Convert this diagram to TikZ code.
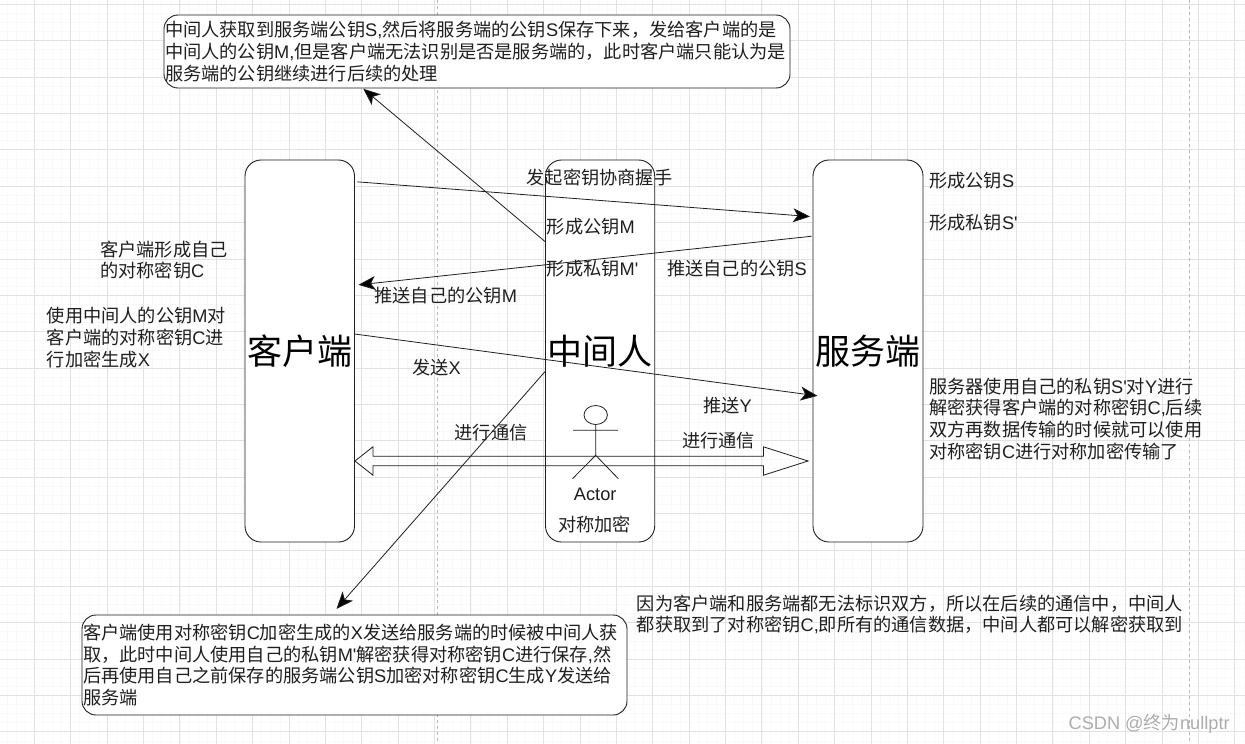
\documentclass[tikz,border=0pt]{standalone}
\usepackage{fontspec}
\usetikzlibrary{arrows.meta,shapes.geometric,calc}
\setmainfont{Noto Sans CJK SC}
\newfontfamily\latfont{Liberation Sans}
\newcommand{\la}[1]{{\latfont #1}}
\definecolor{gridmajor}{gray}{0.885}
\definecolor{gridminor}{gray}{0.975}
\definecolor{guide}{gray}{0.72}
\definecolor{markgray}{gray}{0.68}
\tikzset{
  txt/.style={inner sep=0pt,align=left,anchor=west,text=black!88,font=\fontsize{18.2}{21.6}\selectfont},
  ctxt/.style={txt,anchor=center,align=center},
  box/.style={draw=black!88,fill=white,line width=0.9pt,rounded corners=16pt,inner sep=0pt,minimum height=382pt,font=\fontsize{35}{40}\selectfont},
  note/.style={draw=black!88,fill=white,line width=0.9pt,rounded corners=14pt,inner sep=1pt,align=left,font=\fontsize{18.2}{21.6}\selectfont,text=black!88},
  conn/.style={draw=black!88,line width=0.8pt,-{Stealth[length=17pt,width=14pt,inset=4.5pt,fill=black]}},
  stick/.style={draw=black!88,line width=0.8pt},
}
\begin{document}
\begin{tikzpicture}[x=1pt,y=-1pt]
\useasboundingbox (0,0) rectangle (1245,744);
\fill[white] (0,0) rectangle (1245,744);
% grid
\foreach \k in {0,...,138}{
  \pgfmathsetmacro{\gx}{-2+9.094*\k}
  \draw[gridminor,line width=0.7pt] (\gx,0) -- (\gx,744);
}
\foreach \k in {0,...,82}{
  \pgfmathsetmacro{\gy}{4.3+9.094*\k}
  \draw[gridminor,line width=0.7pt] (0,\gy) -- (1245,\gy);
}
\foreach \k in {0,...,34}{
  \pgfmathsetmacro{\gx}{-2+36.375*\k}
  \draw[gridmajor,line width=0.9pt] (\gx,0) -- (\gx,744);
}
\foreach \k in {0,...,20}{
  \pgfmathsetmacro{\gy}{4.3+36.38*\k}
  \draw[gridmajor,line width=0.9pt] (0,\gy) -- (1245,\gy);
}
\draw[guide,dashed,line width=0.8pt] (437,0) -- (437,744);
\draw[guide,dashed,line width=0.8pt] (1189.3,0) -- (1189.3,744);
% boxes
\node[box,minimum width=109.5pt] (client) at (299.75,351) {客户端};
\node[box,minimum width=109.2pt] (mid) at (600.1,351) {中间人};
\node[box,minimum width=110pt] (server) at (868,351) {服务端};
\node[note,text width=624pt,minimum height=73pt] (topnote) at (477,51.5) {中间人获取到服务端公钥\la{S,}然后将服务端的公钥\la{S}保存下来，发给客户端的是\\中间人的公钥\la{M,}但是客户端无法识别是否是服务端的，此时客户端只能认为是\\服务端的公钥继续进行后续的处理};
\node[note,text width=543pt,minimum height=100pt] (botnote) at (354.5,665) {客户端使用对称密钥\la{C}加密生成的\la{X}发送给服务端的时候被中间人获\\取，此时中间人使用自己的私钥\la{M'}解密获得对称密钥\la{C}进行保存\la{,}然\\后再使用自己之前保存的服务端公钥\la{S}加密对称密钥\la{C}生成\la{Y}发送给\\服务端};
% actor
\node[stick,ellipse,fill=none,minimum width=23.4pt,minimum height=19pt,inner sep=0pt] (head) at (595.7,415) {};
\coordinate (armL) at (573,430.3);
\coordinate (armR) at (618,430.3);
\coordinate (hip) at (595.7,455.3);
\coordinate (legL) at (572.5,478.7);
\coordinate (legR) at (618.3,478.7);
\draw[stick] (head.south) -- (hip) (armL) -- (armR) (legL) -- (hip) -- (legR);
\node[ctxt] (actorlabel) at (595.2,494.7) {\la{Actor}};
\node[ctxt] (symm) at (594.7,524) {对称加密};
% connectors
\draw[conn] ([xshift=2.5pt,yshift=-22.3pt]client.north east) -- ([xshift=-2.5pt,yshift=-57pt]server.north west);
\draw[conn] ([xshift=-1pt,yshift=-76.7pt]server.north west) -- ([xshift=3.5pt,yshift=-125.3pt]client.north east);
\draw[conn] ([yshift=-82pt]mid.north west) -- ([xshift=199.7pt,yshift=-0.3pt]topnote.south west);
\draw[conn] ([yshift=-174.5pt]client.north east) -- ([xshift=5pt,yshift=-236.3pt]server.north west);
\draw[conn] ([yshift=-212pt]mid.north west) -- ([xshift=255pt,yshift=5.7pt]botnote.north west);
% double outlined arrow
\coordinate (flexL) at ([yshift=-110pt]client.east);
\coordinate (flexR) at ([xshift=-4.5pt,yshift=-110pt]server.west);
\draw[stick] (flexL) -- ++(18,-14.2) -- ++(0,9.5) -- ($(flexR)+(-44.6,-4.7)$) -- ++(0,-9.5) -- (flexR) -- ++(-44.6,14.2) -- ++(0,-9.5) -- ($(flexL)+(18,4.7)$) -- ++(0,9.5) -- cycle;
% labels
\node[ctxt] (t1) at (599.5,177.7) {发起密钥协商握手};
\node[txt] (t2) at (546.7,226.7) {形成公钥\la{M}};
\node[txt] (t3) at (546.7,268.3) {形成私钥\la{M'}};
\node[txt] (t4) at (374.3,296) {推送自己的公钥\la{M}};
\node[txt] (t5) at (100,260) {客户端形成自己\\的对称密钥\la{C}};
\node[txt] (t6) at (46.6,337.6) {使用中间人的公钥\la{M}对\\客户端的对称密钥\la{C}进\\行加密生成\la{X}};
\node[txt] (t7) at (412,368) {发送\la{X}};
\node[txt] (t8) at (667,268.3) {推送自己的公钥\la{S}};
\node[txt] (t9) at (929,181) {形成公钥\la{S}};
\node[txt] (t10) at (929,222.7) {形成私钥\la{S'}};
\node[txt] (t11) at (929,418.7) {服务器使用自己的私钥\la{S'}对\la{Y}进行\\解密获得客户端的对称密钥\la{C,}后续\\双方再数据传输的时候就可以使用\\对称密钥\la{C}进行对称加密传输了};
\node[txt] (t12) at (703,406) {推送\la{Y}};
\node[txt] (t13) at (454.5,432.7) {进行通信};
\node[txt] (t14) at (681.8,441) {进行通信};
\node[txt] (t15) at (636.7,614.5) {因为客户端和服务端都无法标识双方，所以在后续的通信中，中间人\\都获取到了对称密钥\la{C,}即所有的通信数据，中间人都可以解密获取到};
\node[txt,text=markgray] (t16) at (1068.4,724) {\la{CSDN @}终为\la{nullptr}};
\end{tikzpicture}
\end{document}
